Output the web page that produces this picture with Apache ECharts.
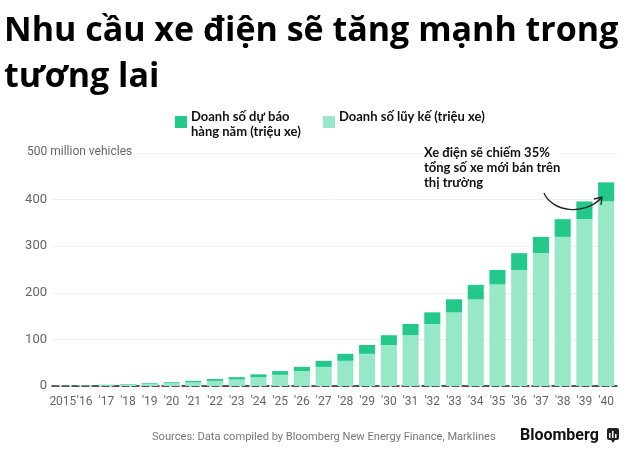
<!DOCTYPE html>
<html><head><meta charset="utf-8">
<script src="https://cdn.jsdelivr.net/npm/echarts@6/dist/echarts.min.js"></script>
<style>html,body{margin:0;padding:0;background:#fff}#c{width:640px;height:461px}</style>
</head><body><div id="c"></div>
<script>
const years = ['2015',"'16","'17","'18","'19","'20","'21","'22","'23","'24","'25","'26","'27","'28","'29","'30","'31","'32","'33","'34","'35","'36","'37","'38","'39","'40"];
const cumulative = [0.5,1,2,3,4.5,6,8,11,14,19,24,32,41,54,69,88,109,133,158,186,218,249,285,320,358,396];
const annual = [0.2,0.5,0.7,1,1.5,2,3,4,5,6,8,9,13,15,19,21,24,25,28,31,31,36,35,38,38,41];
const yTicks = [0,100,200,300,400,500];
const titleLines = ['Nhu cầu xe điện sẽ tăng mạnh trong','tương lai'];
const legendNames = ['Doanh số dự báo\nhàng năm (triệu xe)','Doanh số lũy kế (triệu xe)'];
const noteLines = ['Xe điện sẽ chiếm 35%','tổng số xe mới bán trên','thị trường'];
const sourceText = 'Sources: Data compiled by Bloomberg New Energy Finance, Marklines';

const DARK = '#22c98b', LIGHT = '#97e8c7';
const chart = echarts.init(document.getElementById('c'));
const uiFont = 'Lato, "Open Sans", sans-serif';
chart.setOption({
  animation: false,
  grid: {left: 52, right: 23, top: 153, bottom: 75},
  xAxis: {
    type: 'category', data: years,
    axisLine: {lineStyle: {color: '#222', width: 1.5, type: [7, 3]}},
    axisTick: {alignWithLabel: true, length: 5, lineStyle: {color: '#888'}},
    axisLabel: {color: '#666', fontSize: 12, fontFamily: 'Roboto, sans-serif', margin: 10, interval: 0}
  },
  yAxis: {
    type: 'value', min: yTicks[0], max: yTicks[yTicks.length - 1], interval: 100,
    axisLine: {show: false}, axisTick: {show: false},
    splitLine: {lineStyle: {color: '#efefef'}},
    axisLabel: {color: '#666', fontSize: 13, fontFamily: 'Roboto, sans-serif', margin: 5,
      formatter: v => v === 500 ? '' : String(v)}
  },
  series: [
    {name: legendNames[1], type: 'bar', stack: 's', data: cumulative, barCategoryGap: '26%', itemStyle: {color: LIGHT}},
    {name: legendNames[0], type: 'bar', stack: 's', data: annual, itemStyle: {color: DARK}}
  ],
  graphic: [
    {type: 'text', left: 4, top: 8, style: {text: titleLines.join('\n'), font: 'bold 34px "Open Sans", sans-serif', fill: '#000', lineHeight: 46}},
    {type: 'rect', shape: {x: 175, y: 116, width: 12, height: 12}, style: {fill: DARK}},
    {type: 'text', x: 191, y: 109, style: {text: legendNames[0], font: 'bold 13px ' + uiFont, fill: '#111', lineHeight: 15}},
    {type: 'rect', shape: {x: 323, y: 116, width: 12, height: 12}, style: {fill: LIGHT}},
    {type: 'text', x: 339, y: 109, style: {text: legendNames[1], font: 'bold 13px ' + uiFont, fill: '#111', lineHeight: 15}},
    {type: 'text', x: 27, y: 146, z: 10, style: {text: '500 million vehicles', font: '12px Roboto, sans-serif', fill: '#666', backgroundColor: '#fff', padding: [0, 4, 0, 0]}},
    {type: 'text', x: 424, y: 145, z: 10, style: {text: noteLines.join('\n'), font: 'bold 13px ' + uiFont, fill: '#111', lineHeight: 15, backgroundColor: '#fff'}},
    {type: 'bezierCurve', z: 10, shape: {x1: 544, y1: 193, cpx1: 552, cpy1: 212, cpx2: 585, cpy2: 216, x2: 601, y2: 198}, style: {stroke: '#222', lineWidth: 1.3, fill: null}},
    {type: 'polyline', z: 10, shape: {points: [[594, 199], [602, 197], [601, 205]]}, style: {stroke: '#222', lineWidth: 1.3, fill: null}},
    {type: 'text', x: 152, y: 432, style: {text: sourceText, font: '11.1px Roboto, sans-serif', fill: '#777'}},
    {type: 'text', x: 520, y: 428, style: {text: 'Bloomberg', font: 'bold 16px Roboto, sans-serif', fill: '#111'}},
    {type: 'rect', shape: {x: 607, y: 428, width: 12, height: 12, r: 2}, style: {fill: '#222'}},
    {type: 'polygon', shape: {points: [[611, 440], [615, 440], [613, 443]]}, style: {fill: '#222'}},
    {type: 'rect', shape: {x: 609, y: 433, width: 1.5, height: 5}, style: {fill: '#fff'}},
    {type: 'rect', shape: {x: 612, y: 431, width: 1.5, height: 7}, style: {fill: '#fff'}},
    {type: 'rect', shape: {x: 615, y: 434, width: 1.5, height: 4}, style: {fill: '#fff'}}
  ]
});
</script></body></html>
